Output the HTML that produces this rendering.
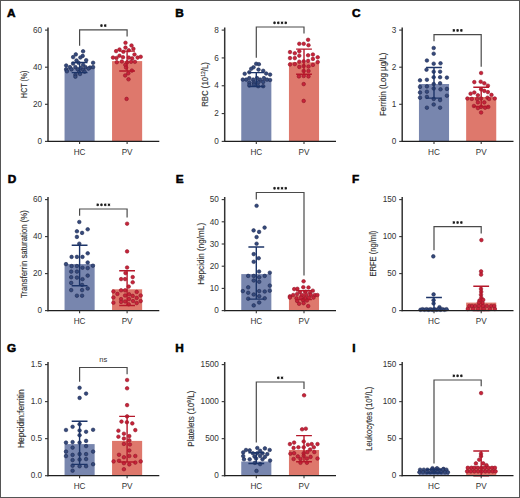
<!DOCTYPE html>
<html><head><meta charset="utf-8"><style>
html,body{margin:0;padding:0;background:#fff;width:520px;height:498px;overflow:hidden}
svg{display:block}
#bd{position:absolute;left:0;top:0;width:518px;height:496px;border:1px solid #555}
text{font-family:"Liberation Sans",sans-serif;fill:#333333}
.t{font-size:8.2px}
.ns{font-size:7.6px}
.yt{font-size:9px;stroke:#333;stroke-width:0.15px}
.L{font-size:11.8px;font-weight:bold;fill:#000;stroke:#000;stroke-width:0.55px}
</style></head><body>
<svg width="520" height="498" viewBox="0 0 520 498">
<rect x="0" y="0" width="520" height="498" fill="#fff"/>
<rect x="64.55" y="67.5" width="30.1" height="73.9" fill="#7886ae"/>
<rect x="112.05" y="61.1" width="30.1" height="80.3" fill="#de786c"/>
<circle cx="83.1" cy="51.3" r="1.8" fill="#354a7c" stroke="#1e2a52" stroke-width="0.6"/>
<circle cx="75.8" cy="54.4" r="1.8" fill="#354a7c" stroke="#1e2a52" stroke-width="0.6"/>
<circle cx="82.7" cy="55.9" r="1.8" fill="#354a7c" stroke="#1e2a52" stroke-width="0.6"/>
<circle cx="73.1" cy="57.1" r="1.8" fill="#354a7c" stroke="#1e2a52" stroke-width="0.6"/>
<circle cx="80.4" cy="57.5" r="1.8" fill="#354a7c" stroke="#1e2a52" stroke-width="0.6"/>
<circle cx="86.2" cy="60.2" r="1.8" fill="#354a7c" stroke="#1e2a52" stroke-width="0.6"/>
<circle cx="76.5" cy="60.5" r="1.8" fill="#354a7c" stroke="#1e2a52" stroke-width="0.6"/>
<circle cx="93.1" cy="62.8" r="1.8" fill="#354a7c" stroke="#1e2a52" stroke-width="0.6"/>
<circle cx="73.1" cy="63.6" r="1.8" fill="#354a7c" stroke="#1e2a52" stroke-width="0.6"/>
<circle cx="78.5" cy="62.8" r="1.8" fill="#354a7c" stroke="#1e2a52" stroke-width="0.6"/>
<circle cx="66.2" cy="65.5" r="1.8" fill="#354a7c" stroke="#1e2a52" stroke-width="0.6"/>
<circle cx="83.1" cy="64.8" r="1.8" fill="#354a7c" stroke="#1e2a52" stroke-width="0.6"/>
<circle cx="70" cy="67.1" r="1.8" fill="#354a7c" stroke="#1e2a52" stroke-width="0.6"/>
<circle cx="75.4" cy="67.1" r="1.8" fill="#354a7c" stroke="#1e2a52" stroke-width="0.6"/>
<circle cx="80.8" cy="67.8" r="1.8" fill="#354a7c" stroke="#1e2a52" stroke-width="0.6"/>
<circle cx="85.4" cy="67.1" r="1.8" fill="#354a7c" stroke="#1e2a52" stroke-width="0.6"/>
<circle cx="90" cy="67.5" r="1.8" fill="#354a7c" stroke="#1e2a52" stroke-width="0.6"/>
<circle cx="93.1" cy="67.1" r="1.8" fill="#354a7c" stroke="#1e2a52" stroke-width="0.6"/>
<circle cx="66.2" cy="69.4" r="1.8" fill="#354a7c" stroke="#1e2a52" stroke-width="0.6"/>
<circle cx="71.5" cy="69.4" r="1.8" fill="#354a7c" stroke="#1e2a52" stroke-width="0.6"/>
<circle cx="77.7" cy="69.4" r="1.8" fill="#354a7c" stroke="#1e2a52" stroke-width="0.6"/>
<circle cx="83.1" cy="69.8" r="1.8" fill="#354a7c" stroke="#1e2a52" stroke-width="0.6"/>
<circle cx="88.5" cy="68.6" r="1.8" fill="#354a7c" stroke="#1e2a52" stroke-width="0.6"/>
<circle cx="66.9" cy="71.3" r="1.8" fill="#354a7c" stroke="#1e2a52" stroke-width="0.6"/>
<circle cx="79.2" cy="72.1" r="1.8" fill="#354a7c" stroke="#1e2a52" stroke-width="0.6"/>
<circle cx="84.6" cy="71.7" r="1.8" fill="#354a7c" stroke="#1e2a52" stroke-width="0.6"/>
<circle cx="75.4" cy="74.8" r="1.8" fill="#354a7c" stroke="#1e2a52" stroke-width="0.6"/>
<circle cx="80" cy="74" r="1.8" fill="#354a7c" stroke="#1e2a52" stroke-width="0.6"/>
<circle cx="75.4" cy="76.7" r="1.8" fill="#354a7c" stroke="#1e2a52" stroke-width="0.6"/>
<circle cx="125.5" cy="42.8" r="1.8" fill="#c8233a" stroke="#921527" stroke-width="0.6"/>
<circle cx="131.5" cy="45.5" r="1.8" fill="#c8233a" stroke="#921527" stroke-width="0.6"/>
<circle cx="125.5" cy="47.6" r="1.8" fill="#c8233a" stroke="#921527" stroke-width="0.6"/>
<circle cx="119.5" cy="49.5" r="1.8" fill="#c8233a" stroke="#921527" stroke-width="0.6"/>
<circle cx="116.1" cy="51.1" r="1.8" fill="#c8233a" stroke="#921527" stroke-width="0.6"/>
<circle cx="133.4" cy="48.8" r="1.8" fill="#c8233a" stroke="#921527" stroke-width="0.6"/>
<circle cx="128.8" cy="50.3" r="1.8" fill="#c8233a" stroke="#921527" stroke-width="0.6"/>
<circle cx="123.4" cy="51.8" r="1.8" fill="#c8233a" stroke="#921527" stroke-width="0.6"/>
<circle cx="134.5" cy="54.5" r="1.8" fill="#c8233a" stroke="#921527" stroke-width="0.6"/>
<circle cx="119.5" cy="55.7" r="1.8" fill="#c8233a" stroke="#921527" stroke-width="0.6"/>
<circle cx="113" cy="57.6" r="1.8" fill="#c8233a" stroke="#921527" stroke-width="0.6"/>
<circle cx="116.5" cy="58" r="1.8" fill="#c8233a" stroke="#921527" stroke-width="0.6"/>
<circle cx="123" cy="57.2" r="1.8" fill="#c8233a" stroke="#921527" stroke-width="0.6"/>
<circle cx="128.8" cy="57.6" r="1.8" fill="#c8233a" stroke="#921527" stroke-width="0.6"/>
<circle cx="132.2" cy="58.4" r="1.8" fill="#c8233a" stroke="#921527" stroke-width="0.6"/>
<circle cx="137.6" cy="57.6" r="1.8" fill="#c8233a" stroke="#921527" stroke-width="0.6"/>
<circle cx="140.7" cy="56.8" r="1.8" fill="#c8233a" stroke="#921527" stroke-width="0.6"/>
<circle cx="116.8" cy="62.2" r="1.8" fill="#c8233a" stroke="#921527" stroke-width="0.6"/>
<circle cx="121.8" cy="61.5" r="1.8" fill="#c8233a" stroke="#921527" stroke-width="0.6"/>
<circle cx="127.2" cy="62.2" r="1.8" fill="#c8233a" stroke="#921527" stroke-width="0.6"/>
<circle cx="131.1" cy="61.8" r="1.8" fill="#c8233a" stroke="#921527" stroke-width="0.6"/>
<circle cx="134.9" cy="61.8" r="1.8" fill="#c8233a" stroke="#921527" stroke-width="0.6"/>
<circle cx="125.3" cy="64.9" r="1.8" fill="#c8233a" stroke="#921527" stroke-width="0.6"/>
<circle cx="126.1" cy="67.6" r="1.8" fill="#c8233a" stroke="#921527" stroke-width="0.6"/>
<circle cx="131.9" cy="70.6" r="1.8" fill="#c8233a" stroke="#921527" stroke-width="0.6"/>
<circle cx="128.3" cy="73.3" r="1.8" fill="#c8233a" stroke="#921527" stroke-width="0.6"/>
<circle cx="125.2" cy="75.5" r="1.8" fill="#c8233a" stroke="#921527" stroke-width="0.6"/>
<circle cx="128.5" cy="79.3" r="1.8" fill="#c8233a" stroke="#921527" stroke-width="0.6"/>
<circle cx="126.6" cy="98.9" r="1.8" fill="#c8233a" stroke="#921527" stroke-width="0.6"/>
<path d="M79.6 72.6V62.5M71.7 72.6H87.5M71.7 62.5H87.5" stroke="#1c3468" stroke-width="1.4" fill="none"/>
<path d="M127.1 71V51.1M119.2 71H135M119.2 51.1H135" stroke="#b5182b" stroke-width="1.4" fill="none"/>
<path d="M48 27.5V142" stroke="#333333" stroke-width="1.5" fill="none"/>
<path d="M47.3 141.4H159.3" stroke="#1e1e1e" stroke-width="1.3" fill="none"/>
<path d="M45 141.4H48" stroke="#333333" stroke-width="1.1"/>
<text x="42.1" y="144.1" text-anchor="end" class="t">0</text>
<path d="M45 104.3H48" stroke="#333333" stroke-width="1.1"/>
<text x="42.1" y="107" text-anchor="end" class="t">20</text>
<path d="M45 67.2H48" stroke="#333333" stroke-width="1.1"/>
<text x="42.1" y="69.9" text-anchor="end" class="t">40</text>
<path d="M45 30.1H48" stroke="#333333" stroke-width="1.1"/>
<text x="42.1" y="32.8" text-anchor="end" class="t">60</text>
<path d="M79.6 141.4V144" stroke="#333333" stroke-width="1.1"/>
<text x="79.6" y="155" text-anchor="middle" class="t">HC</text>
<path d="M127.1 141.4V144" stroke="#333333" stroke-width="1.1"/>
<text x="127.1" y="155" text-anchor="middle" class="t">PV</text>
<path d="M79.6 45.8V29.8H127.1V36.5" stroke="#4a4a4a" stroke-width="1.2" fill="none"/>
<path d="M101.47 27L101.47 24.2M100.26 26.3L102.69 24.9M102.69 26.3L100.26 24.9M105.22 27L105.22 24.2M104.01 26.3L106.44 24.9M106.44 26.3L104.01 24.9" stroke="#222" stroke-width="0.8" fill="none"/>
<circle cx="101.47" cy="25.6" r="1.05" fill="#1a1a1a"/>
<circle cx="105.22" cy="25.6" r="1.05" fill="#1a1a1a"/>
<text transform="translate(26.8 97.9) rotate(-90)" textLength="27.3" lengthAdjust="spacingAndGlyphs" class="yt">HCT (%)</text>
<text x="7.1" y="16.9" class="L">A</text>
<rect x="241.25" y="79.6" width="30.1" height="61.8" fill="#7886ae"/>
<rect x="288.95" y="62.3" width="30.1" height="79.1" fill="#de786c"/>
<circle cx="256.2" cy="63.8" r="1.8" fill="#354a7c" stroke="#1e2a52" stroke-width="0.6"/>
<circle cx="258.9" cy="64.2" r="1.8" fill="#354a7c" stroke="#1e2a52" stroke-width="0.6"/>
<circle cx="253.5" cy="67.3" r="1.8" fill="#354a7c" stroke="#1e2a52" stroke-width="0.6"/>
<circle cx="251.2" cy="68.8" r="1.8" fill="#354a7c" stroke="#1e2a52" stroke-width="0.6"/>
<circle cx="258.5" cy="69.6" r="1.8" fill="#354a7c" stroke="#1e2a52" stroke-width="0.6"/>
<circle cx="263.2" cy="70.8" r="1.8" fill="#354a7c" stroke="#1e2a52" stroke-width="0.6"/>
<circle cx="249.3" cy="72.3" r="1.8" fill="#354a7c" stroke="#1e2a52" stroke-width="0.6"/>
<circle cx="244.7" cy="73.8" r="1.8" fill="#354a7c" stroke="#1e2a52" stroke-width="0.6"/>
<circle cx="266.2" cy="73.5" r="1.8" fill="#354a7c" stroke="#1e2a52" stroke-width="0.6"/>
<circle cx="270.1" cy="74.6" r="1.8" fill="#354a7c" stroke="#1e2a52" stroke-width="0.6"/>
<circle cx="242.8" cy="79.6" r="1.8" fill="#354a7c" stroke="#1e2a52" stroke-width="0.6"/>
<circle cx="246.2" cy="79.6" r="1.8" fill="#354a7c" stroke="#1e2a52" stroke-width="0.6"/>
<circle cx="249.3" cy="78.1" r="1.8" fill="#354a7c" stroke="#1e2a52" stroke-width="0.6"/>
<circle cx="253.2" cy="79.6" r="1.8" fill="#354a7c" stroke="#1e2a52" stroke-width="0.6"/>
<circle cx="257" cy="78.1" r="1.8" fill="#354a7c" stroke="#1e2a52" stroke-width="0.6"/>
<circle cx="260.1" cy="79.6" r="1.8" fill="#354a7c" stroke="#1e2a52" stroke-width="0.6"/>
<circle cx="263.9" cy="78.1" r="1.8" fill="#354a7c" stroke="#1e2a52" stroke-width="0.6"/>
<circle cx="267" cy="79.6" r="1.8" fill="#354a7c" stroke="#1e2a52" stroke-width="0.6"/>
<circle cx="270.1" cy="80" r="1.8" fill="#354a7c" stroke="#1e2a52" stroke-width="0.6"/>
<circle cx="249.3" cy="82.7" r="1.8" fill="#354a7c" stroke="#1e2a52" stroke-width="0.6"/>
<circle cx="253.9" cy="82.7" r="1.8" fill="#354a7c" stroke="#1e2a52" stroke-width="0.6"/>
<circle cx="258.5" cy="82.3" r="1.8" fill="#354a7c" stroke="#1e2a52" stroke-width="0.6"/>
<circle cx="263.2" cy="81.9" r="1.8" fill="#354a7c" stroke="#1e2a52" stroke-width="0.6"/>
<circle cx="249.3" cy="85.4" r="1.8" fill="#354a7c" stroke="#1e2a52" stroke-width="0.6"/>
<circle cx="253.9" cy="84.6" r="1.8" fill="#354a7c" stroke="#1e2a52" stroke-width="0.6"/>
<circle cx="258.2" cy="86.2" r="1.8" fill="#354a7c" stroke="#1e2a52" stroke-width="0.6"/>
<circle cx="263.2" cy="86.2" r="1.8" fill="#354a7c" stroke="#1e2a52" stroke-width="0.6"/>
<circle cx="308.1" cy="39.8" r="1.8" fill="#c8233a" stroke="#921527" stroke-width="0.6"/>
<circle cx="299.3" cy="43.8" r="1.8" fill="#c8233a" stroke="#921527" stroke-width="0.6"/>
<circle cx="303.7" cy="43.8" r="1.8" fill="#c8233a" stroke="#921527" stroke-width="0.6"/>
<circle cx="308.5" cy="45.2" r="1.8" fill="#c8233a" stroke="#921527" stroke-width="0.6"/>
<circle cx="290" cy="52.1" r="1.8" fill="#c8233a" stroke="#921527" stroke-width="0.6"/>
<circle cx="294.8" cy="53.3" r="1.8" fill="#c8233a" stroke="#921527" stroke-width="0.6"/>
<circle cx="299.3" cy="51.3" r="1.8" fill="#c8233a" stroke="#921527" stroke-width="0.6"/>
<circle cx="299.3" cy="55.7" r="1.8" fill="#c8233a" stroke="#921527" stroke-width="0.6"/>
<circle cx="308.1" cy="55.3" r="1.8" fill="#c8233a" stroke="#921527" stroke-width="0.6"/>
<circle cx="312.9" cy="54.5" r="1.8" fill="#c8233a" stroke="#921527" stroke-width="0.6"/>
<circle cx="317.7" cy="57.3" r="1.8" fill="#c8233a" stroke="#921527" stroke-width="0.6"/>
<circle cx="290" cy="58.1" r="1.8" fill="#c8233a" stroke="#921527" stroke-width="0.6"/>
<circle cx="294.8" cy="58.1" r="1.8" fill="#c8233a" stroke="#921527" stroke-width="0.6"/>
<circle cx="299.3" cy="61.7" r="1.8" fill="#c8233a" stroke="#921527" stroke-width="0.6"/>
<circle cx="303.7" cy="61.3" r="1.8" fill="#c8233a" stroke="#921527" stroke-width="0.6"/>
<circle cx="308.1" cy="60.9" r="1.8" fill="#c8233a" stroke="#921527" stroke-width="0.6"/>
<circle cx="312.9" cy="58.9" r="1.8" fill="#c8233a" stroke="#921527" stroke-width="0.6"/>
<circle cx="317.7" cy="62.1" r="1.8" fill="#c8233a" stroke="#921527" stroke-width="0.6"/>
<circle cx="290" cy="64.5" r="1.8" fill="#c8233a" stroke="#921527" stroke-width="0.6"/>
<circle cx="294.8" cy="64.1" r="1.8" fill="#c8233a" stroke="#921527" stroke-width="0.6"/>
<circle cx="312.9" cy="64.9" r="1.8" fill="#c8233a" stroke="#921527" stroke-width="0.6"/>
<circle cx="299.3" cy="66.9" r="1.8" fill="#c8233a" stroke="#921527" stroke-width="0.6"/>
<circle cx="303.7" cy="66.1" r="1.8" fill="#c8233a" stroke="#921527" stroke-width="0.6"/>
<circle cx="308.5" cy="66.5" r="1.8" fill="#c8233a" stroke="#921527" stroke-width="0.6"/>
<circle cx="308.5" cy="71" r="1.8" fill="#c8233a" stroke="#921527" stroke-width="0.6"/>
<circle cx="303.7" cy="71" r="1.8" fill="#c8233a" stroke="#921527" stroke-width="0.6"/>
<circle cx="298.9" cy="76.4" r="1.8" fill="#c8233a" stroke="#921527" stroke-width="0.6"/>
<circle cx="303.7" cy="76" r="1.8" fill="#c8233a" stroke="#921527" stroke-width="0.6"/>
<circle cx="308.5" cy="76.4" r="1.8" fill="#c8233a" stroke="#921527" stroke-width="0.6"/>
<circle cx="303.7" cy="84.1" r="1.8" fill="#c8233a" stroke="#921527" stroke-width="0.6"/>
<circle cx="303.7" cy="100.9" r="1.8" fill="#c8233a" stroke="#921527" stroke-width="0.6"/>
<path d="M256.3 86.5V72.6M248.4 86.5H264.2M248.4 72.6H264.2" stroke="#1c3468" stroke-width="1.4" fill="none"/>
<path d="M304 74.3V49.1M296.1 74.3H311.9M296.1 49.1H311.9" stroke="#b5182b" stroke-width="1.4" fill="none"/>
<path d="M224.7 27.5V142" stroke="#333333" stroke-width="1.5" fill="none"/>
<path d="M224 141.4H336" stroke="#1e1e1e" stroke-width="1.3" fill="none"/>
<path d="M221.7 141.4H224.7" stroke="#333333" stroke-width="1.1"/>
<text x="218.8" y="144.1" text-anchor="end" class="t">0</text>
<path d="M221.7 113.58H224.7" stroke="#333333" stroke-width="1.1"/>
<text x="218.8" y="116.28" text-anchor="end" class="t">2</text>
<path d="M221.7 85.75H224.7" stroke="#333333" stroke-width="1.1"/>
<text x="218.8" y="88.45" text-anchor="end" class="t">4</text>
<path d="M221.7 57.92H224.7" stroke="#333333" stroke-width="1.1"/>
<text x="218.8" y="60.62" text-anchor="end" class="t">6</text>
<path d="M221.7 30.1H224.7" stroke="#333333" stroke-width="1.1"/>
<text x="218.8" y="32.8" text-anchor="end" class="t">8</text>
<path d="M256.3 141.4V144" stroke="#333333" stroke-width="1.1"/>
<text x="256.3" y="155" text-anchor="middle" class="t">HC</text>
<path d="M304 141.4V144" stroke="#333333" stroke-width="1.1"/>
<text x="304" y="155" text-anchor="middle" class="t">PV</text>
<path d="M256.3 57.7V27H304V33.5" stroke="#4a4a4a" stroke-width="1.2" fill="none"/>
<path d="M274.52 24.2L274.52 21.4M273.31 23.5L275.74 22.1M275.74 23.5L273.31 22.1M278.27 24.2L278.27 21.4M277.06 23.5L279.49 22.1M279.49 23.5L277.06 22.1M282.02 24.2L282.02 21.4M280.81 23.5L283.24 22.1M283.24 23.5L280.81 22.1M285.77 24.2L285.77 21.4M284.56 23.5L286.99 22.1M286.99 23.5L284.56 22.1" stroke="#222" stroke-width="0.8" fill="none"/>
<circle cx="274.52" cy="22.8" r="1.05" fill="#1a1a1a"/>
<circle cx="278.27" cy="22.8" r="1.05" fill="#1a1a1a"/>
<circle cx="282.02" cy="22.8" r="1.05" fill="#1a1a1a"/>
<circle cx="285.77" cy="22.8" r="1.05" fill="#1a1a1a"/>
<text transform="translate(208.1 106.8) rotate(-90)" textLength="44.7" lengthAdjust="spacingAndGlyphs" class="yt">RBC (10<tspan dy="-3.4" font-size="5.8">12</tspan><tspan dy="3.4">/L)</tspan></text>
<text x="175.2" y="16.8" class="L">B</text>
<rect x="418.95" y="84" width="30.1" height="57.4" fill="#7886ae"/>
<rect x="466.15" y="97" width="30.1" height="44.4" fill="#de786c"/>
<circle cx="433.7" cy="48" r="1.8" fill="#354a7c" stroke="#1e2a52" stroke-width="0.6"/>
<circle cx="433.7" cy="53.7" r="1.8" fill="#354a7c" stroke="#1e2a52" stroke-width="0.6"/>
<circle cx="426.9" cy="60.5" r="1.8" fill="#354a7c" stroke="#1e2a52" stroke-width="0.6"/>
<circle cx="433.7" cy="63.7" r="1.8" fill="#354a7c" stroke="#1e2a52" stroke-width="0.6"/>
<circle cx="440.5" cy="63.3" r="1.8" fill="#354a7c" stroke="#1e2a52" stroke-width="0.6"/>
<circle cx="426.5" cy="69.7" r="1.8" fill="#354a7c" stroke="#1e2a52" stroke-width="0.6"/>
<circle cx="433.7" cy="71.7" r="1.8" fill="#354a7c" stroke="#1e2a52" stroke-width="0.6"/>
<circle cx="440.1" cy="71.7" r="1.8" fill="#354a7c" stroke="#1e2a52" stroke-width="0.6"/>
<circle cx="433.7" cy="77.2" r="1.8" fill="#354a7c" stroke="#1e2a52" stroke-width="0.6"/>
<circle cx="440.1" cy="77.2" r="1.8" fill="#354a7c" stroke="#1e2a52" stroke-width="0.6"/>
<circle cx="446.9" cy="77.6" r="1.8" fill="#354a7c" stroke="#1e2a52" stroke-width="0.6"/>
<circle cx="420" cy="80.3" r="1.8" fill="#354a7c" stroke="#1e2a52" stroke-width="0.6"/>
<circle cx="426.9" cy="79.8" r="1.8" fill="#354a7c" stroke="#1e2a52" stroke-width="0.6"/>
<circle cx="440.1" cy="83.2" r="1.8" fill="#354a7c" stroke="#1e2a52" stroke-width="0.6"/>
<circle cx="433.7" cy="84" r="1.8" fill="#354a7c" stroke="#1e2a52" stroke-width="0.6"/>
<circle cx="420" cy="86.9" r="1.8" fill="#354a7c" stroke="#1e2a52" stroke-width="0.6"/>
<circle cx="426.9" cy="86.4" r="1.8" fill="#354a7c" stroke="#1e2a52" stroke-width="0.6"/>
<circle cx="433.7" cy="88.5" r="1.8" fill="#354a7c" stroke="#1e2a52" stroke-width="0.6"/>
<circle cx="440.5" cy="89.3" r="1.8" fill="#354a7c" stroke="#1e2a52" stroke-width="0.6"/>
<circle cx="446.9" cy="88.9" r="1.8" fill="#354a7c" stroke="#1e2a52" stroke-width="0.6"/>
<circle cx="420" cy="92.5" r="1.8" fill="#354a7c" stroke="#1e2a52" stroke-width="0.6"/>
<circle cx="426.9" cy="91.7" r="1.8" fill="#354a7c" stroke="#1e2a52" stroke-width="0.6"/>
<circle cx="446.9" cy="95.7" r="1.8" fill="#354a7c" stroke="#1e2a52" stroke-width="0.6"/>
<circle cx="420" cy="97.7" r="1.8" fill="#354a7c" stroke="#1e2a52" stroke-width="0.6"/>
<circle cx="426.9" cy="96.9" r="1.8" fill="#354a7c" stroke="#1e2a52" stroke-width="0.6"/>
<circle cx="433.7" cy="98.9" r="1.8" fill="#354a7c" stroke="#1e2a52" stroke-width="0.6"/>
<circle cx="440.1" cy="100.1" r="1.8" fill="#354a7c" stroke="#1e2a52" stroke-width="0.6"/>
<circle cx="433.7" cy="104.5" r="1.8" fill="#354a7c" stroke="#1e2a52" stroke-width="0.6"/>
<circle cx="426.9" cy="107.7" r="1.8" fill="#354a7c" stroke="#1e2a52" stroke-width="0.6"/>
<circle cx="440.1" cy="107.7" r="1.8" fill="#354a7c" stroke="#1e2a52" stroke-width="0.6"/>
<circle cx="481.1" cy="73" r="1.8" fill="#c8233a" stroke="#921527" stroke-width="0.6"/>
<circle cx="474.3" cy="82.1" r="1.8" fill="#c8233a" stroke="#921527" stroke-width="0.6"/>
<circle cx="480.7" cy="81.7" r="1.8" fill="#c8233a" stroke="#921527" stroke-width="0.6"/>
<circle cx="484.3" cy="83.3" r="1.8" fill="#c8233a" stroke="#921527" stroke-width="0.6"/>
<circle cx="487.9" cy="85.7" r="1.8" fill="#c8233a" stroke="#921527" stroke-width="0.6"/>
<circle cx="481.1" cy="89.3" r="1.8" fill="#c8233a" stroke="#921527" stroke-width="0.6"/>
<circle cx="484.3" cy="90.9" r="1.8" fill="#c8233a" stroke="#921527" stroke-width="0.6"/>
<circle cx="487.9" cy="92.1" r="1.8" fill="#c8233a" stroke="#921527" stroke-width="0.6"/>
<circle cx="474.3" cy="92.5" r="1.8" fill="#c8233a" stroke="#921527" stroke-width="0.6"/>
<circle cx="470.6" cy="93.7" r="1.8" fill="#c8233a" stroke="#921527" stroke-width="0.6"/>
<circle cx="477.9" cy="95.3" r="1.8" fill="#c8233a" stroke="#921527" stroke-width="0.6"/>
<circle cx="491.5" cy="94.9" r="1.8" fill="#c8233a" stroke="#921527" stroke-width="0.6"/>
<circle cx="467.4" cy="98.5" r="1.8" fill="#c8233a" stroke="#921527" stroke-width="0.6"/>
<circle cx="471.8" cy="98.9" r="1.8" fill="#c8233a" stroke="#921527" stroke-width="0.6"/>
<circle cx="481.1" cy="98.5" r="1.8" fill="#c8233a" stroke="#921527" stroke-width="0.6"/>
<circle cx="487.5" cy="97.7" r="1.8" fill="#c8233a" stroke="#921527" stroke-width="0.6"/>
<circle cx="494.7" cy="98.5" r="1.8" fill="#c8233a" stroke="#921527" stroke-width="0.6"/>
<circle cx="477.1" cy="99" r="1.8" fill="#c8233a" stroke="#921527" stroke-width="0.6"/>
<circle cx="489.1" cy="99" r="1.8" fill="#c8233a" stroke="#921527" stroke-width="0.6"/>
<circle cx="477.9" cy="102.4" r="1.8" fill="#c8233a" stroke="#921527" stroke-width="0.6"/>
<circle cx="484.3" cy="102.4" r="1.8" fill="#c8233a" stroke="#921527" stroke-width="0.6"/>
<circle cx="473.9" cy="106" r="1.8" fill="#c8233a" stroke="#921527" stroke-width="0.6"/>
<circle cx="477.9" cy="108.1" r="1.8" fill="#c8233a" stroke="#921527" stroke-width="0.6"/>
<circle cx="481.1" cy="106.9" r="1.8" fill="#c8233a" stroke="#921527" stroke-width="0.6"/>
<circle cx="485.1" cy="107.7" r="1.8" fill="#c8233a" stroke="#921527" stroke-width="0.6"/>
<circle cx="488.3" cy="106.9" r="1.8" fill="#c8233a" stroke="#921527" stroke-width="0.6"/>
<circle cx="481.1" cy="112.5" r="1.8" fill="#c8233a" stroke="#921527" stroke-width="0.6"/>
<path d="M434 98.1V67.5M426.1 98.1H441.9M426.1 67.5H441.9" stroke="#1c3468" stroke-width="1.4" fill="none"/>
<path d="M481.2 106.5V87.3M473.3 106.5H489.1M473.3 87.3H489.1" stroke="#b5182b" stroke-width="1.4" fill="none"/>
<path d="M402.2 27.5V142" stroke="#333333" stroke-width="1.5" fill="none"/>
<path d="M401.5 141.4H513.5" stroke="#1e1e1e" stroke-width="1.3" fill="none"/>
<path d="M399.2 141.4H402.2" stroke="#333333" stroke-width="1.1"/>
<text x="396.3" y="144.1" text-anchor="end" class="t">0</text>
<path d="M399.2 104.3H402.2" stroke="#333333" stroke-width="1.1"/>
<text x="396.3" y="107" text-anchor="end" class="t">1</text>
<path d="M399.2 67.2H402.2" stroke="#333333" stroke-width="1.1"/>
<text x="396.3" y="69.9" text-anchor="end" class="t">2</text>
<path d="M399.2 30.1H402.2" stroke="#333333" stroke-width="1.1"/>
<text x="396.3" y="32.8" text-anchor="end" class="t">3</text>
<path d="M434 141.4V144" stroke="#333333" stroke-width="1.1"/>
<text x="434" y="155" text-anchor="middle" class="t">HC</text>
<path d="M481.2 141.4V144" stroke="#333333" stroke-width="1.1"/>
<text x="481.2" y="155" text-anchor="middle" class="t">PV</text>
<path d="M434 41.3V34.6H481.2V66.7" stroke="#4a4a4a" stroke-width="1.2" fill="none"/>
<path d="M453.85 31.8L453.85 29M452.64 31.1L455.06 29.7M455.06 31.1L452.64 29.7M457.6 31.8L457.6 29M456.39 31.1L458.81 29.7M458.81 31.1L456.39 29.7M461.35 31.8L461.35 29M460.14 31.1L462.56 29.7M462.56 31.1L460.14 29.7" stroke="#222" stroke-width="0.8" fill="none"/>
<circle cx="453.85" cy="30.4" r="1.05" fill="#1a1a1a"/>
<circle cx="457.6" cy="30.4" r="1.05" fill="#1a1a1a"/>
<circle cx="461.35" cy="30.4" r="1.05" fill="#1a1a1a"/>
<text transform="translate(385.8 116) rotate(-90)" textLength="63.4" lengthAdjust="spacingAndGlyphs" class="yt">Ferritin (Log µg/L)</text>
<text x="351.9" y="16.9" class="L">C</text>
<rect x="64.55" y="264.1" width="30.1" height="46.5" fill="#7886ae"/>
<rect x="112.05" y="289.3" width="30.1" height="21.3" fill="#de786c"/>
<circle cx="79.3" cy="222" r="1.8" fill="#354a7c" stroke="#1e2a52" stroke-width="0.6"/>
<circle cx="87.7" cy="229.3" r="1.8" fill="#354a7c" stroke="#1e2a52" stroke-width="0.6"/>
<circle cx="76.9" cy="231.3" r="1.8" fill="#354a7c" stroke="#1e2a52" stroke-width="0.6"/>
<circle cx="82.1" cy="232.9" r="1.8" fill="#354a7c" stroke="#1e2a52" stroke-width="0.6"/>
<circle cx="76.9" cy="236.9" r="1.8" fill="#354a7c" stroke="#1e2a52" stroke-width="0.6"/>
<circle cx="79.3" cy="243.7" r="1.8" fill="#354a7c" stroke="#1e2a52" stroke-width="0.6"/>
<circle cx="87.7" cy="253.3" r="1.8" fill="#354a7c" stroke="#1e2a52" stroke-width="0.6"/>
<circle cx="71.6" cy="256.9" r="1.8" fill="#354a7c" stroke="#1e2a52" stroke-width="0.6"/>
<circle cx="76.9" cy="256.9" r="1.8" fill="#354a7c" stroke="#1e2a52" stroke-width="0.6"/>
<circle cx="82.5" cy="256.9" r="1.8" fill="#354a7c" stroke="#1e2a52" stroke-width="0.6"/>
<circle cx="87.7" cy="262.5" r="1.8" fill="#354a7c" stroke="#1e2a52" stroke-width="0.6"/>
<circle cx="66" cy="264.1" r="1.8" fill="#354a7c" stroke="#1e2a52" stroke-width="0.6"/>
<circle cx="92.9" cy="265.7" r="1.8" fill="#354a7c" stroke="#1e2a52" stroke-width="0.6"/>
<circle cx="71.6" cy="266.1" r="1.8" fill="#354a7c" stroke="#1e2a52" stroke-width="0.6"/>
<circle cx="76.9" cy="266.1" r="1.8" fill="#354a7c" stroke="#1e2a52" stroke-width="0.6"/>
<circle cx="82.5" cy="267.7" r="1.8" fill="#354a7c" stroke="#1e2a52" stroke-width="0.6"/>
<circle cx="87.7" cy="268.1" r="1.8" fill="#354a7c" stroke="#1e2a52" stroke-width="0.6"/>
<circle cx="71.2" cy="271.6" r="1.8" fill="#354a7c" stroke="#1e2a52" stroke-width="0.6"/>
<circle cx="76.9" cy="271.6" r="1.8" fill="#354a7c" stroke="#1e2a52" stroke-width="0.6"/>
<circle cx="87.7" cy="275.6" r="1.8" fill="#354a7c" stroke="#1e2a52" stroke-width="0.6"/>
<circle cx="71.2" cy="277.2" r="1.8" fill="#354a7c" stroke="#1e2a52" stroke-width="0.6"/>
<circle cx="76.9" cy="277.6" r="1.8" fill="#354a7c" stroke="#1e2a52" stroke-width="0.6"/>
<circle cx="82.5" cy="279.2" r="1.8" fill="#354a7c" stroke="#1e2a52" stroke-width="0.6"/>
<circle cx="71.2" cy="282.9" r="1.8" fill="#354a7c" stroke="#1e2a52" stroke-width="0.6"/>
<circle cx="82.1" cy="284.9" r="1.8" fill="#354a7c" stroke="#1e2a52" stroke-width="0.6"/>
<circle cx="87.7" cy="288.5" r="1.8" fill="#354a7c" stroke="#1e2a52" stroke-width="0.6"/>
<circle cx="71.2" cy="290.1" r="1.8" fill="#354a7c" stroke="#1e2a52" stroke-width="0.6"/>
<circle cx="82.1" cy="290.1" r="1.8" fill="#354a7c" stroke="#1e2a52" stroke-width="0.6"/>
<circle cx="76.9" cy="295.7" r="1.8" fill="#354a7c" stroke="#1e2a52" stroke-width="0.6"/>
<circle cx="82.1" cy="295.7" r="1.8" fill="#354a7c" stroke="#1e2a52" stroke-width="0.6"/>
<circle cx="127.1" cy="223.7" r="1.8" fill="#c8233a" stroke="#921527" stroke-width="0.6"/>
<circle cx="127.1" cy="251.4" r="1.8" fill="#c8233a" stroke="#921527" stroke-width="0.6"/>
<circle cx="127.1" cy="267.5" r="1.8" fill="#c8233a" stroke="#921527" stroke-width="0.6"/>
<circle cx="125.5" cy="273.1" r="1.8" fill="#c8233a" stroke="#921527" stroke-width="0.6"/>
<circle cx="121.1" cy="279.1" r="1.8" fill="#c8233a" stroke="#921527" stroke-width="0.6"/>
<circle cx="125.1" cy="279.1" r="1.8" fill="#c8233a" stroke="#921527" stroke-width="0.6"/>
<circle cx="132.7" cy="277.1" r="1.8" fill="#c8233a" stroke="#921527" stroke-width="0.6"/>
<circle cx="132.7" cy="282.3" r="1.8" fill="#c8233a" stroke="#921527" stroke-width="0.6"/>
<circle cx="128.7" cy="286.6" r="1.8" fill="#c8233a" stroke="#921527" stroke-width="0.6"/>
<circle cx="113.4" cy="291.5" r="1.8" fill="#c8233a" stroke="#921527" stroke-width="0.6"/>
<circle cx="121.1" cy="290.3" r="1.8" fill="#c8233a" stroke="#921527" stroke-width="0.6"/>
<circle cx="125.1" cy="290.3" r="1.8" fill="#c8233a" stroke="#921527" stroke-width="0.6"/>
<circle cx="136.7" cy="291.9" r="1.8" fill="#c8233a" stroke="#921527" stroke-width="0.6"/>
<circle cx="117.4" cy="293.9" r="1.8" fill="#c8233a" stroke="#921527" stroke-width="0.6"/>
<circle cx="125.1" cy="295.5" r="1.8" fill="#c8233a" stroke="#921527" stroke-width="0.6"/>
<circle cx="129.1" cy="294.3" r="1.8" fill="#c8233a" stroke="#921527" stroke-width="0.6"/>
<circle cx="132.7" cy="295.9" r="1.8" fill="#c8233a" stroke="#921527" stroke-width="0.6"/>
<circle cx="140.7" cy="295.5" r="1.8" fill="#c8233a" stroke="#921527" stroke-width="0.6"/>
<circle cx="113.4" cy="297.5" r="1.8" fill="#c8233a" stroke="#921527" stroke-width="0.6"/>
<circle cx="121.1" cy="299.1" r="1.8" fill="#c8233a" stroke="#921527" stroke-width="0.6"/>
<circle cx="129.1" cy="299.1" r="1.8" fill="#c8233a" stroke="#921527" stroke-width="0.6"/>
<circle cx="136.7" cy="297.9" r="1.8" fill="#c8233a" stroke="#921527" stroke-width="0.6"/>
<circle cx="113.4" cy="302.7" r="1.8" fill="#c8233a" stroke="#921527" stroke-width="0.6"/>
<circle cx="121.1" cy="301.9" r="1.8" fill="#c8233a" stroke="#921527" stroke-width="0.6"/>
<circle cx="125.1" cy="301.5" r="1.8" fill="#c8233a" stroke="#921527" stroke-width="0.6"/>
<circle cx="133.1" cy="301.1" r="1.8" fill="#c8233a" stroke="#921527" stroke-width="0.6"/>
<circle cx="140.7" cy="301.1" r="1.8" fill="#c8233a" stroke="#921527" stroke-width="0.6"/>
<circle cx="128.7" cy="304.3" r="1.8" fill="#c8233a" stroke="#921527" stroke-width="0.6"/>
<circle cx="136.7" cy="303.1" r="1.8" fill="#c8233a" stroke="#921527" stroke-width="0.6"/>
<path d="M79.6 285.7V245.2M71.7 285.7H87.5M71.7 245.2H87.5" stroke="#1c3468" stroke-width="1.4" fill="none"/>
<path d="M127.1 305.5V270.7M119.2 305.5H135M119.2 270.7H135" stroke="#b5182b" stroke-width="1.4" fill="none"/>
<path d="M48 197V311.2" stroke="#333333" stroke-width="1.5" fill="none"/>
<path d="M47.3 310.6H159.3" stroke="#1e1e1e" stroke-width="1.3" fill="none"/>
<path d="M45 310.6H48" stroke="#333333" stroke-width="1.1"/>
<text x="42.1" y="313.3" text-anchor="end" class="t">0</text>
<path d="M45 273.6H48" stroke="#333333" stroke-width="1.1"/>
<text x="42.1" y="276.3" text-anchor="end" class="t">20</text>
<path d="M45 236.6H48" stroke="#333333" stroke-width="1.1"/>
<text x="42.1" y="239.3" text-anchor="end" class="t">40</text>
<path d="M45 199.6H48" stroke="#333333" stroke-width="1.1"/>
<text x="42.1" y="202.3" text-anchor="end" class="t">60</text>
<path d="M79.6 310.6V313.2" stroke="#333333" stroke-width="1.1"/>
<text x="79.6" y="324.2" text-anchor="middle" class="t">HC</text>
<path d="M127.1 310.6V313.2" stroke="#333333" stroke-width="1.1"/>
<text x="127.1" y="324.2" text-anchor="middle" class="t">PV</text>
<path d="M79.6 215.8V209H127.1V217.5" stroke="#4a4a4a" stroke-width="1.2" fill="none"/>
<path d="M97.72 206.2L97.72 203.4M96.51 205.5L98.94 204.1M98.94 205.5L96.51 204.1M101.47 206.2L101.47 203.4M100.26 205.5L102.69 204.1M102.69 205.5L100.26 204.1M105.22 206.2L105.22 203.4M104.01 205.5L106.44 204.1M106.44 205.5L104.01 204.1M108.97 206.2L108.97 203.4M107.76 205.5L110.19 204.1M110.19 205.5L107.76 204.1" stroke="#222" stroke-width="0.8" fill="none"/>
<circle cx="97.72" cy="204.8" r="1.05" fill="#1a1a1a"/>
<circle cx="101.47" cy="204.8" r="1.05" fill="#1a1a1a"/>
<circle cx="105.22" cy="204.8" r="1.05" fill="#1a1a1a"/>
<circle cx="108.97" cy="204.8" r="1.05" fill="#1a1a1a"/>
<text transform="translate(26.8 298.1) rotate(-90)" textLength="87.9" lengthAdjust="spacingAndGlyphs" class="yt">Transferrin saturation (%)</text>
<text x="7.7" y="182.7" class="L">D</text>
<rect x="241.25" y="274.1" width="30.1" height="36.5" fill="#7886ae"/>
<rect x="288.95" y="295.3" width="30.1" height="15.3" fill="#de786c"/>
<circle cx="256.6" cy="205.8" r="1.8" fill="#354a7c" stroke="#1e2a52" stroke-width="0.6"/>
<circle cx="264.6" cy="227.6" r="1.8" fill="#354a7c" stroke="#1e2a52" stroke-width="0.6"/>
<circle cx="253.6" cy="230.4" r="1.8" fill="#354a7c" stroke="#1e2a52" stroke-width="0.6"/>
<circle cx="259.1" cy="231.9" r="1.8" fill="#354a7c" stroke="#1e2a52" stroke-width="0.6"/>
<circle cx="256.6" cy="237.1" r="1.8" fill="#354a7c" stroke="#1e2a52" stroke-width="0.6"/>
<circle cx="256.6" cy="243.7" r="1.8" fill="#354a7c" stroke="#1e2a52" stroke-width="0.6"/>
<circle cx="253.7" cy="254.1" r="1.8" fill="#354a7c" stroke="#1e2a52" stroke-width="0.6"/>
<circle cx="258.7" cy="258.2" r="1.8" fill="#354a7c" stroke="#1e2a52" stroke-width="0.6"/>
<circle cx="253.7" cy="261.8" r="1.8" fill="#354a7c" stroke="#1e2a52" stroke-width="0.6"/>
<circle cx="259.1" cy="271.5" r="1.8" fill="#354a7c" stroke="#1e2a52" stroke-width="0.6"/>
<circle cx="269.8" cy="272.7" r="1.8" fill="#354a7c" stroke="#1e2a52" stroke-width="0.6"/>
<circle cx="248.2" cy="275.9" r="1.8" fill="#354a7c" stroke="#1e2a52" stroke-width="0.6"/>
<circle cx="253.7" cy="275.9" r="1.8" fill="#354a7c" stroke="#1e2a52" stroke-width="0.6"/>
<circle cx="259.2" cy="277.2" r="1.8" fill="#354a7c" stroke="#1e2a52" stroke-width="0.6"/>
<circle cx="264.7" cy="275.9" r="1.8" fill="#354a7c" stroke="#1e2a52" stroke-width="0.6"/>
<circle cx="253.7" cy="280.5" r="1.8" fill="#354a7c" stroke="#1e2a52" stroke-width="0.6"/>
<circle cx="259.2" cy="281.8" r="1.8" fill="#354a7c" stroke="#1e2a52" stroke-width="0.6"/>
<circle cx="269.8" cy="285.6" r="1.8" fill="#354a7c" stroke="#1e2a52" stroke-width="0.6"/>
<circle cx="248.2" cy="287.3" r="1.8" fill="#354a7c" stroke="#1e2a52" stroke-width="0.6"/>
<circle cx="242.8" cy="291.1" r="1.8" fill="#354a7c" stroke="#1e2a52" stroke-width="0.6"/>
<circle cx="248.2" cy="292.8" r="1.8" fill="#354a7c" stroke="#1e2a52" stroke-width="0.6"/>
<circle cx="259.2" cy="291.1" r="1.8" fill="#354a7c" stroke="#1e2a52" stroke-width="0.6"/>
<circle cx="264.7" cy="291.5" r="1.8" fill="#354a7c" stroke="#1e2a52" stroke-width="0.6"/>
<circle cx="269.8" cy="290.7" r="1.8" fill="#354a7c" stroke="#1e2a52" stroke-width="0.6"/>
<circle cx="253.7" cy="294.5" r="1.8" fill="#354a7c" stroke="#1e2a52" stroke-width="0.6"/>
<circle cx="259.2" cy="296.2" r="1.8" fill="#354a7c" stroke="#1e2a52" stroke-width="0.6"/>
<circle cx="248.2" cy="298.7" r="1.8" fill="#354a7c" stroke="#1e2a52" stroke-width="0.6"/>
<circle cx="264.7" cy="298.3" r="1.8" fill="#354a7c" stroke="#1e2a52" stroke-width="0.6"/>
<circle cx="259.2" cy="302.5" r="1.8" fill="#354a7c" stroke="#1e2a52" stroke-width="0.6"/>
<circle cx="253.7" cy="305.4" r="1.8" fill="#354a7c" stroke="#1e2a52" stroke-width="0.6"/>
<circle cx="303.6" cy="281.3" r="1.8" fill="#c8233a" stroke="#921527" stroke-width="0.6"/>
<circle cx="303.3" cy="287.2" r="1.8" fill="#c8233a" stroke="#921527" stroke-width="0.6"/>
<circle cx="308.5" cy="287.5" r="1.8" fill="#c8233a" stroke="#921527" stroke-width="0.6"/>
<circle cx="294.2" cy="289.1" r="1.8" fill="#c8233a" stroke="#921527" stroke-width="0.6"/>
<circle cx="297.4" cy="288.8" r="1.8" fill="#c8233a" stroke="#921527" stroke-width="0.6"/>
<circle cx="312.8" cy="290.7" r="1.8" fill="#c8233a" stroke="#921527" stroke-width="0.6"/>
<circle cx="300" cy="292.1" r="1.8" fill="#c8233a" stroke="#921527" stroke-width="0.6"/>
<circle cx="305.6" cy="291.7" r="1.8" fill="#c8233a" stroke="#921527" stroke-width="0.6"/>
<circle cx="309.9" cy="293" r="1.8" fill="#c8233a" stroke="#921527" stroke-width="0.6"/>
<circle cx="289.9" cy="296.3" r="1.8" fill="#c8233a" stroke="#921527" stroke-width="0.6"/>
<circle cx="293.2" cy="295" r="1.8" fill="#c8233a" stroke="#921527" stroke-width="0.6"/>
<circle cx="297.1" cy="294" r="1.8" fill="#c8233a" stroke="#921527" stroke-width="0.6"/>
<circle cx="301.7" cy="295" r="1.8" fill="#c8233a" stroke="#921527" stroke-width="0.6"/>
<circle cx="306.3" cy="294.7" r="1.8" fill="#c8233a" stroke="#921527" stroke-width="0.6"/>
<circle cx="310.8" cy="294.7" r="1.8" fill="#c8233a" stroke="#921527" stroke-width="0.6"/>
<circle cx="314.8" cy="295" r="1.8" fill="#c8233a" stroke="#921527" stroke-width="0.6"/>
<circle cx="317.4" cy="295" r="1.8" fill="#c8233a" stroke="#921527" stroke-width="0.6"/>
<circle cx="289.9" cy="297.6" r="1.8" fill="#c8233a" stroke="#921527" stroke-width="0.6"/>
<circle cx="296.5" cy="298.3" r="1.8" fill="#c8233a" stroke="#921527" stroke-width="0.6"/>
<circle cx="301" cy="297.6" r="1.8" fill="#c8233a" stroke="#921527" stroke-width="0.6"/>
<circle cx="305" cy="298.3" r="1.8" fill="#c8233a" stroke="#921527" stroke-width="0.6"/>
<circle cx="308.9" cy="297.6" r="1.8" fill="#c8233a" stroke="#921527" stroke-width="0.6"/>
<circle cx="313.5" cy="297.6" r="1.8" fill="#c8233a" stroke="#921527" stroke-width="0.6"/>
<circle cx="297.1" cy="300.9" r="1.8" fill="#c8233a" stroke="#921527" stroke-width="0.6"/>
<circle cx="303" cy="300.2" r="1.8" fill="#c8233a" stroke="#921527" stroke-width="0.6"/>
<circle cx="306.9" cy="300.5" r="1.8" fill="#c8233a" stroke="#921527" stroke-width="0.6"/>
<circle cx="299.1" cy="303.8" r="1.8" fill="#c8233a" stroke="#921527" stroke-width="0.6"/>
<circle cx="303.6" cy="303.2" r="1.8" fill="#c8233a" stroke="#921527" stroke-width="0.6"/>
<circle cx="308.2" cy="306.1" r="1.8" fill="#c8233a" stroke="#921527" stroke-width="0.6"/>
<path d="M256.3 299.1V247M248.4 299.1H264.2M248.4 247H264.2" stroke="#1c3468" stroke-width="1.4" fill="none"/>
<path d="M304 299.6V290.7M296.1 299.6H311.9M296.1 290.7H311.9" stroke="#b5182b" stroke-width="1.4" fill="none"/>
<path d="M224.7 197V311.2" stroke="#333333" stroke-width="1.5" fill="none"/>
<path d="M224 310.6H336" stroke="#1e1e1e" stroke-width="1.3" fill="none"/>
<path d="M221.7 310.6H224.7" stroke="#333333" stroke-width="1.1"/>
<text x="218.8" y="313.3" text-anchor="end" class="t">0</text>
<path d="M221.7 288.4H224.7" stroke="#333333" stroke-width="1.1"/>
<text x="218.8" y="291.1" text-anchor="end" class="t">10</text>
<path d="M221.7 266.2H224.7" stroke="#333333" stroke-width="1.1"/>
<text x="218.8" y="268.9" text-anchor="end" class="t">20</text>
<path d="M221.7 244H224.7" stroke="#333333" stroke-width="1.1"/>
<text x="218.8" y="246.7" text-anchor="end" class="t">30</text>
<path d="M221.7 221.8H224.7" stroke="#333333" stroke-width="1.1"/>
<text x="218.8" y="224.5" text-anchor="end" class="t">40</text>
<path d="M221.7 199.6H224.7" stroke="#333333" stroke-width="1.1"/>
<text x="218.8" y="202.3" text-anchor="end" class="t">50</text>
<path d="M256.3 310.6V313.2" stroke="#333333" stroke-width="1.1"/>
<text x="256.3" y="324.2" text-anchor="middle" class="t">HC</text>
<path d="M304 310.6V313.2" stroke="#333333" stroke-width="1.1"/>
<text x="304" y="324.2" text-anchor="middle" class="t">PV</text>
<path d="M256.3 199.6V192.5H304V275.5" stroke="#4a4a4a" stroke-width="1.2" fill="none"/>
<path d="M274.52 189.7L274.52 186.9M273.31 189L275.74 187.6M275.74 189L273.31 187.6M278.27 189.7L278.27 186.9M277.06 189L279.49 187.6M279.49 189L277.06 187.6M282.02 189.7L282.02 186.9M280.81 189L283.24 187.6M283.24 189L280.81 187.6M285.77 189.7L285.77 186.9M284.56 189L286.99 187.6M286.99 189L284.56 187.6" stroke="#222" stroke-width="0.8" fill="none"/>
<circle cx="274.52" cy="188.3" r="1.05" fill="#1a1a1a"/>
<circle cx="278.27" cy="188.3" r="1.05" fill="#1a1a1a"/>
<circle cx="282.02" cy="188.3" r="1.05" fill="#1a1a1a"/>
<circle cx="285.77" cy="188.3" r="1.05" fill="#1a1a1a"/>
<text transform="translate(204 284.8) rotate(-90)" textLength="61.9" lengthAdjust="spacingAndGlyphs" class="yt">Hepcidin (ng/mL)</text>
<text x="175.8" y="182.5" class="L">E</text>
<rect x="418.95" y="309" width="30.1" height="1.6" fill="#7886ae"/>
<rect x="466.15" y="302.6" width="30.1" height="8" fill="#de786c"/>
<circle cx="433.3" cy="256.4" r="1.8" fill="#354a7c" stroke="#1e2a52" stroke-width="0.6"/>
<circle cx="433.6" cy="294.4" r="1.8" fill="#354a7c" stroke="#1e2a52" stroke-width="0.6"/>
<circle cx="433.6" cy="300.2" r="1.8" fill="#354a7c" stroke="#1e2a52" stroke-width="0.6"/>
<circle cx="433.6" cy="303.5" r="1.8" fill="#354a7c" stroke="#1e2a52" stroke-width="0.6"/>
<circle cx="439.5" cy="307.2" r="1.8" fill="#354a7c" stroke="#1e2a52" stroke-width="0.6"/>
<circle cx="420.5" cy="309.8" r="1.8" fill="#354a7c" stroke="#1e2a52" stroke-width="0.6"/>
<circle cx="422.5" cy="309.2" r="1.8" fill="#354a7c" stroke="#1e2a52" stroke-width="0.6"/>
<circle cx="424.5" cy="309.8" r="1.8" fill="#354a7c" stroke="#1e2a52" stroke-width="0.6"/>
<circle cx="426.5" cy="309.2" r="1.8" fill="#354a7c" stroke="#1e2a52" stroke-width="0.6"/>
<circle cx="428.5" cy="309.8" r="1.8" fill="#354a7c" stroke="#1e2a52" stroke-width="0.6"/>
<circle cx="430.5" cy="309.2" r="1.8" fill="#354a7c" stroke="#1e2a52" stroke-width="0.6"/>
<circle cx="432.5" cy="309.8" r="1.8" fill="#354a7c" stroke="#1e2a52" stroke-width="0.6"/>
<circle cx="434.5" cy="309.2" r="1.8" fill="#354a7c" stroke="#1e2a52" stroke-width="0.6"/>
<circle cx="436.5" cy="309.8" r="1.8" fill="#354a7c" stroke="#1e2a52" stroke-width="0.6"/>
<circle cx="438.5" cy="309.2" r="1.8" fill="#354a7c" stroke="#1e2a52" stroke-width="0.6"/>
<circle cx="440.5" cy="309.8" r="1.8" fill="#354a7c" stroke="#1e2a52" stroke-width="0.6"/>
<circle cx="442.5" cy="309.2" r="1.8" fill="#354a7c" stroke="#1e2a52" stroke-width="0.6"/>
<circle cx="444.5" cy="309.8" r="1.8" fill="#354a7c" stroke="#1e2a52" stroke-width="0.6"/>
<circle cx="446.5" cy="309.2" r="1.8" fill="#354a7c" stroke="#1e2a52" stroke-width="0.6"/>
<circle cx="481.4" cy="240.1" r="1.8" fill="#c8233a" stroke="#921527" stroke-width="0.6"/>
<circle cx="481.1" cy="271.4" r="1.8" fill="#c8233a" stroke="#921527" stroke-width="0.6"/>
<circle cx="481.1" cy="274.6" r="1.8" fill="#c8233a" stroke="#921527" stroke-width="0.6"/>
<circle cx="481" cy="288.9" r="1.8" fill="#c8233a" stroke="#921527" stroke-width="0.6"/>
<circle cx="481.2" cy="291.8" r="1.8" fill="#c8233a" stroke="#921527" stroke-width="0.6"/>
<circle cx="481" cy="294.8" r="1.8" fill="#c8233a" stroke="#921527" stroke-width="0.6"/>
<circle cx="481.3" cy="297.7" r="1.8" fill="#c8233a" stroke="#921527" stroke-width="0.6"/>
<circle cx="483.2" cy="299.9" r="1.8" fill="#c8233a" stroke="#921527" stroke-width="0.6"/>
<circle cx="479.5" cy="300.5" r="1.8" fill="#c8233a" stroke="#921527" stroke-width="0.6"/>
<circle cx="478.8" cy="302.8" r="1.8" fill="#c8233a" stroke="#921527" stroke-width="0.6"/>
<circle cx="482.5" cy="303" r="1.8" fill="#c8233a" stroke="#921527" stroke-width="0.6"/>
<circle cx="469.3" cy="306" r="1.8" fill="#c8233a" stroke="#921527" stroke-width="0.6"/>
<circle cx="472" cy="306" r="1.8" fill="#c8233a" stroke="#921527" stroke-width="0.6"/>
<circle cx="475.2" cy="306" r="1.8" fill="#c8233a" stroke="#921527" stroke-width="0.6"/>
<circle cx="478.8" cy="306" r="1.8" fill="#c8233a" stroke="#921527" stroke-width="0.6"/>
<circle cx="483.2" cy="306" r="1.8" fill="#c8233a" stroke="#921527" stroke-width="0.6"/>
<circle cx="486.8" cy="306" r="1.8" fill="#c8233a" stroke="#921527" stroke-width="0.6"/>
<circle cx="491.2" cy="306" r="1.8" fill="#c8233a" stroke="#921527" stroke-width="0.6"/>
<circle cx="494.2" cy="306" r="1.8" fill="#c8233a" stroke="#921527" stroke-width="0.6"/>
<circle cx="467.8" cy="309" r="1.8" fill="#c8233a" stroke="#921527" stroke-width="0.6"/>
<circle cx="473" cy="309" r="1.8" fill="#c8233a" stroke="#921527" stroke-width="0.6"/>
<circle cx="478" cy="309" r="1.8" fill="#c8233a" stroke="#921527" stroke-width="0.6"/>
<circle cx="484" cy="309" r="1.8" fill="#c8233a" stroke="#921527" stroke-width="0.6"/>
<circle cx="489.8" cy="309" r="1.8" fill="#c8233a" stroke="#921527" stroke-width="0.6"/>
<circle cx="494.9" cy="309" r="1.8" fill="#c8233a" stroke="#921527" stroke-width="0.6"/>
<path d="M434 310.5V297.5M426.1 310.5H441.9M426.1 297.5H441.9" stroke="#1c3468" stroke-width="1.4" fill="none"/>
<path d="M481.2 310.5V286.3M473.3 310.5H489.1M473.3 286.3H489.1" stroke="#b5182b" stroke-width="1.4" fill="none"/>
<path d="M402.2 197V311.2" stroke="#333333" stroke-width="1.5" fill="none"/>
<path d="M401.5 310.6H513.5" stroke="#1e1e1e" stroke-width="1.3" fill="none"/>
<path d="M399.2 310.6H402.2" stroke="#333333" stroke-width="1.1"/>
<text x="396.3" y="313.3" text-anchor="end" class="t">0</text>
<path d="M399.2 273.6H402.2" stroke="#333333" stroke-width="1.1"/>
<text x="396.3" y="276.3" text-anchor="end" class="t">50</text>
<path d="M399.2 236.6H402.2" stroke="#333333" stroke-width="1.1"/>
<text x="396.3" y="239.3" text-anchor="end" class="t">100</text>
<path d="M399.2 199.6H402.2" stroke="#333333" stroke-width="1.1"/>
<text x="396.3" y="202.3" text-anchor="end" class="t">150</text>
<path d="M434 310.6V313.2" stroke="#333333" stroke-width="1.1"/>
<text x="434" y="324.2" text-anchor="middle" class="t">HC</text>
<path d="M481.2 310.6V313.2" stroke="#333333" stroke-width="1.1"/>
<text x="481.2" y="324.2" text-anchor="middle" class="t">PV</text>
<path d="M434 250.2V226.7H481.2V233.5" stroke="#4a4a4a" stroke-width="1.2" fill="none"/>
<path d="M453.85 223.9L453.85 221.1M452.64 223.2L455.06 221.8M455.06 223.2L452.64 221.8M457.6 223.9L457.6 221.1M456.39 223.2L458.81 221.8M458.81 223.2L456.39 221.8M461.35 223.9L461.35 221.1M460.14 223.2L462.56 221.8M462.56 223.2L460.14 221.8" stroke="#222" stroke-width="0.8" fill="none"/>
<circle cx="453.85" cy="222.5" r="1.05" fill="#1a1a1a"/>
<circle cx="457.6" cy="222.5" r="1.05" fill="#1a1a1a"/>
<circle cx="461.35" cy="222.5" r="1.05" fill="#1a1a1a"/>
<text transform="translate(376.4 276.6) rotate(-90)" textLength="46" lengthAdjust="spacingAndGlyphs" class="yt">ERFE (ng/ml)</text>
<text x="352.1" y="182.5" class="L">F</text>
<rect x="64.55" y="444.1" width="30.1" height="31.6" fill="#7886ae"/>
<rect x="112.05" y="440.9" width="30.1" height="34.8" fill="#de786c"/>
<circle cx="79.6" cy="387.8" r="1.8" fill="#354a7c" stroke="#1e2a52" stroke-width="0.6"/>
<circle cx="86.1" cy="393.6" r="1.8" fill="#354a7c" stroke="#1e2a52" stroke-width="0.6"/>
<circle cx="79.6" cy="397.9" r="1.8" fill="#354a7c" stroke="#1e2a52" stroke-width="0.6"/>
<circle cx="79.6" cy="424.2" r="1.8" fill="#354a7c" stroke="#1e2a52" stroke-width="0.6"/>
<circle cx="72.6" cy="426.8" r="1.8" fill="#354a7c" stroke="#1e2a52" stroke-width="0.6"/>
<circle cx="66" cy="430" r="1.8" fill="#354a7c" stroke="#1e2a52" stroke-width="0.6"/>
<circle cx="79.6" cy="430.5" r="1.8" fill="#354a7c" stroke="#1e2a52" stroke-width="0.6"/>
<circle cx="86.1" cy="431.8" r="1.8" fill="#354a7c" stroke="#1e2a52" stroke-width="0.6"/>
<circle cx="93.1" cy="429.8" r="1.8" fill="#354a7c" stroke="#1e2a52" stroke-width="0.6"/>
<circle cx="79.6" cy="435.2" r="1.8" fill="#354a7c" stroke="#1e2a52" stroke-width="0.6"/>
<circle cx="66" cy="442.6" r="1.8" fill="#354a7c" stroke="#1e2a52" stroke-width="0.6"/>
<circle cx="72.6" cy="442.1" r="1.8" fill="#354a7c" stroke="#1e2a52" stroke-width="0.6"/>
<circle cx="79.6" cy="442.6" r="1.8" fill="#354a7c" stroke="#1e2a52" stroke-width="0.6"/>
<circle cx="86.1" cy="440.9" r="1.8" fill="#354a7c" stroke="#1e2a52" stroke-width="0.6"/>
<circle cx="72.6" cy="447.6" r="1.8" fill="#354a7c" stroke="#1e2a52" stroke-width="0.6"/>
<circle cx="86.1" cy="446.1" r="1.8" fill="#354a7c" stroke="#1e2a52" stroke-width="0.6"/>
<circle cx="66" cy="451.6" r="1.8" fill="#354a7c" stroke="#1e2a52" stroke-width="0.6"/>
<circle cx="93.1" cy="451.6" r="1.8" fill="#354a7c" stroke="#1e2a52" stroke-width="0.6"/>
<circle cx="66" cy="456.1" r="1.8" fill="#354a7c" stroke="#1e2a52" stroke-width="0.6"/>
<circle cx="72.6" cy="454.9" r="1.8" fill="#354a7c" stroke="#1e2a52" stroke-width="0.6"/>
<circle cx="79.6" cy="454.1" r="1.8" fill="#354a7c" stroke="#1e2a52" stroke-width="0.6"/>
<circle cx="86.1" cy="454.1" r="1.8" fill="#354a7c" stroke="#1e2a52" stroke-width="0.6"/>
<circle cx="72.6" cy="460.1" r="1.8" fill="#354a7c" stroke="#1e2a52" stroke-width="0.6"/>
<circle cx="79.6" cy="459.6" r="1.8" fill="#354a7c" stroke="#1e2a52" stroke-width="0.6"/>
<circle cx="86.1" cy="459.1" r="1.8" fill="#354a7c" stroke="#1e2a52" stroke-width="0.6"/>
<circle cx="93.1" cy="464.2" r="1.8" fill="#354a7c" stroke="#1e2a52" stroke-width="0.6"/>
<circle cx="72.6" cy="465.7" r="1.8" fill="#354a7c" stroke="#1e2a52" stroke-width="0.6"/>
<circle cx="79.6" cy="466.2" r="1.8" fill="#354a7c" stroke="#1e2a52" stroke-width="0.6"/>
<circle cx="86.1" cy="466.2" r="1.8" fill="#354a7c" stroke="#1e2a52" stroke-width="0.6"/>
<circle cx="72.6" cy="470.7" r="1.8" fill="#354a7c" stroke="#1e2a52" stroke-width="0.6"/>
<circle cx="127.1" cy="380" r="1.8" fill="#c8233a" stroke="#921527" stroke-width="0.6"/>
<circle cx="127.1" cy="388.3" r="1.8" fill="#c8233a" stroke="#921527" stroke-width="0.6"/>
<circle cx="127.1" cy="405.1" r="1.8" fill="#c8233a" stroke="#921527" stroke-width="0.6"/>
<circle cx="127.1" cy="416.4" r="1.8" fill="#c8233a" stroke="#921527" stroke-width="0.6"/>
<circle cx="121.5" cy="421.6" r="1.8" fill="#c8233a" stroke="#921527" stroke-width="0.6"/>
<circle cx="126.9" cy="422.2" r="1.8" fill="#c8233a" stroke="#921527" stroke-width="0.6"/>
<circle cx="132.3" cy="423.4" r="1.8" fill="#c8233a" stroke="#921527" stroke-width="0.6"/>
<circle cx="118.4" cy="430.7" r="1.8" fill="#c8233a" stroke="#921527" stroke-width="0.6"/>
<circle cx="135.3" cy="430.1" r="1.8" fill="#c8233a" stroke="#921527" stroke-width="0.6"/>
<circle cx="123.9" cy="433.7" r="1.8" fill="#c8233a" stroke="#921527" stroke-width="0.6"/>
<circle cx="118.4" cy="436.7" r="1.8" fill="#c8233a" stroke="#921527" stroke-width="0.6"/>
<circle cx="129.3" cy="436.1" r="1.8" fill="#c8233a" stroke="#921527" stroke-width="0.6"/>
<circle cx="123.9" cy="438.5" r="1.8" fill="#c8233a" stroke="#921527" stroke-width="0.6"/>
<circle cx="129.3" cy="440.3" r="1.8" fill="#c8233a" stroke="#921527" stroke-width="0.6"/>
<circle cx="123.9" cy="443.9" r="1.8" fill="#c8233a" stroke="#921527" stroke-width="0.6"/>
<circle cx="129.9" cy="444.5" r="1.8" fill="#c8233a" stroke="#921527" stroke-width="0.6"/>
<circle cx="129.3" cy="450.5" r="1.8" fill="#c8233a" stroke="#921527" stroke-width="0.6"/>
<circle cx="119" cy="454.8" r="1.8" fill="#c8233a" stroke="#921527" stroke-width="0.6"/>
<circle cx="129.3" cy="456" r="1.8" fill="#c8233a" stroke="#921527" stroke-width="0.6"/>
<circle cx="123.9" cy="457.2" r="1.8" fill="#c8233a" stroke="#921527" stroke-width="0.6"/>
<circle cx="135.3" cy="456" r="1.8" fill="#c8233a" stroke="#921527" stroke-width="0.6"/>
<circle cx="113.6" cy="461.4" r="1.8" fill="#c8233a" stroke="#921527" stroke-width="0.6"/>
<circle cx="119" cy="460.8" r="1.8" fill="#c8233a" stroke="#921527" stroke-width="0.6"/>
<circle cx="140.7" cy="461.4" r="1.8" fill="#c8233a" stroke="#921527" stroke-width="0.6"/>
<circle cx="123.9" cy="463.2" r="1.8" fill="#c8233a" stroke="#921527" stroke-width="0.6"/>
<circle cx="129.3" cy="464.4" r="1.8" fill="#c8233a" stroke="#921527" stroke-width="0.6"/>
<circle cx="135.3" cy="462.6" r="1.8" fill="#c8233a" stroke="#921527" stroke-width="0.6"/>
<circle cx="123.9" cy="469.2" r="1.8" fill="#c8233a" stroke="#921527" stroke-width="0.6"/>
<path d="M79.6 464.4V421.2M71.7 464.4H87.5M71.7 421.2H87.5" stroke="#1c3468" stroke-width="1.4" fill="none"/>
<path d="M127.1 462V416.4M119.2 462H135M119.2 416.4H135" stroke="#b5182b" stroke-width="1.4" fill="none"/>
<path d="M48 362V476.3" stroke="#333333" stroke-width="1.5" fill="none"/>
<path d="M47.3 475.7H159.3" stroke="#1e1e1e" stroke-width="1.3" fill="none"/>
<path d="M45 475.7H48" stroke="#333333" stroke-width="1.1"/>
<text x="42.1" y="478.4" text-anchor="end" class="t">0.0</text>
<path d="M45 438.67H48" stroke="#333333" stroke-width="1.1"/>
<text x="42.1" y="441.37" text-anchor="end" class="t">0.5</text>
<path d="M45 401.63H48" stroke="#333333" stroke-width="1.1"/>
<text x="42.1" y="404.33" text-anchor="end" class="t">1.0</text>
<path d="M45 364.6H48" stroke="#333333" stroke-width="1.1"/>
<text x="42.1" y="367.3" text-anchor="end" class="t">1.5</text>
<path d="M79.6 475.7V478.3" stroke="#333333" stroke-width="1.1"/>
<text x="79.6" y="489.3" text-anchor="middle" class="t">HC</text>
<path d="M127.1 475.7V478.3" stroke="#333333" stroke-width="1.1"/>
<text x="127.1" y="489.3" text-anchor="middle" class="t">PV</text>
<path d="M79.6 381.7V367.5H127.1V374.2" stroke="#4a4a4a" stroke-width="1.2" fill="none"/>
<text x="103.35" y="361.5" text-anchor="middle" class="ns">ns</text>
<text transform="translate(24.3 448.1) rotate(-90)" textLength="58.7" lengthAdjust="spacingAndGlyphs" class="yt">Hepcidin:ferritin</text>
<text x="7.1" y="351.9" class="L">G</text>
<rect x="241.25" y="461.5" width="30.1" height="14.2" fill="#7886ae"/>
<rect x="288.95" y="450" width="30.1" height="25.7" fill="#de786c"/>
<circle cx="257.3" cy="448" r="1.8" fill="#354a7c" stroke="#1e2a52" stroke-width="0.6"/>
<circle cx="264.9" cy="448.4" r="1.8" fill="#354a7c" stroke="#1e2a52" stroke-width="0.6"/>
<circle cx="246" cy="450" r="1.8" fill="#354a7c" stroke="#1e2a52" stroke-width="0.6"/>
<circle cx="249.7" cy="450.4" r="1.8" fill="#354a7c" stroke="#1e2a52" stroke-width="0.6"/>
<circle cx="243.2" cy="452.4" r="1.8" fill="#354a7c" stroke="#1e2a52" stroke-width="0.6"/>
<circle cx="260.1" cy="450.8" r="1.8" fill="#354a7c" stroke="#1e2a52" stroke-width="0.6"/>
<circle cx="269.7" cy="450" r="1.8" fill="#354a7c" stroke="#1e2a52" stroke-width="0.6"/>
<circle cx="252.9" cy="453.3" r="1.8" fill="#354a7c" stroke="#1e2a52" stroke-width="0.6"/>
<circle cx="257.3" cy="453.3" r="1.8" fill="#354a7c" stroke="#1e2a52" stroke-width="0.6"/>
<circle cx="262.5" cy="453.3" r="1.8" fill="#354a7c" stroke="#1e2a52" stroke-width="0.6"/>
<circle cx="267.3" cy="454.1" r="1.8" fill="#354a7c" stroke="#1e2a52" stroke-width="0.6"/>
<circle cx="243.2" cy="456.1" r="1.8" fill="#354a7c" stroke="#1e2a52" stroke-width="0.6"/>
<circle cx="254.5" cy="456.5" r="1.8" fill="#354a7c" stroke="#1e2a52" stroke-width="0.6"/>
<circle cx="260.1" cy="456.1" r="1.8" fill="#354a7c" stroke="#1e2a52" stroke-width="0.6"/>
<circle cx="264.9" cy="456.9" r="1.8" fill="#354a7c" stroke="#1e2a52" stroke-width="0.6"/>
<circle cx="244" cy="459.3" r="1.8" fill="#354a7c" stroke="#1e2a52" stroke-width="0.6"/>
<circle cx="249.7" cy="459.3" r="1.8" fill="#354a7c" stroke="#1e2a52" stroke-width="0.6"/>
<circle cx="256.1" cy="458.5" r="1.8" fill="#354a7c" stroke="#1e2a52" stroke-width="0.6"/>
<circle cx="262.5" cy="459.3" r="1.8" fill="#354a7c" stroke="#1e2a52" stroke-width="0.6"/>
<circle cx="270.1" cy="460.5" r="1.8" fill="#354a7c" stroke="#1e2a52" stroke-width="0.6"/>
<circle cx="254.9" cy="462.9" r="1.8" fill="#354a7c" stroke="#1e2a52" stroke-width="0.6"/>
<circle cx="260.1" cy="464.1" r="1.8" fill="#354a7c" stroke="#1e2a52" stroke-width="0.6"/>
<circle cx="256.5" cy="470.9" r="1.8" fill="#354a7c" stroke="#1e2a52" stroke-width="0.6"/>
<circle cx="304.1" cy="395.3" r="1.8" fill="#c8233a" stroke="#921527" stroke-width="0.6"/>
<circle cx="302.1" cy="429.3" r="1.8" fill="#c8233a" stroke="#921527" stroke-width="0.6"/>
<circle cx="305.8" cy="428.7" r="1.8" fill="#c8233a" stroke="#921527" stroke-width="0.6"/>
<circle cx="303.7" cy="441.5" r="1.8" fill="#c8233a" stroke="#921527" stroke-width="0.6"/>
<circle cx="289.9" cy="444.1" r="1.8" fill="#c8233a" stroke="#921527" stroke-width="0.6"/>
<circle cx="294.1" cy="442.6" r="1.8" fill="#c8233a" stroke="#921527" stroke-width="0.6"/>
<circle cx="307.9" cy="444.7" r="1.8" fill="#c8233a" stroke="#921527" stroke-width="0.6"/>
<circle cx="311.7" cy="444.1" r="1.8" fill="#c8233a" stroke="#921527" stroke-width="0.6"/>
<circle cx="317.5" cy="444.1" r="1.8" fill="#c8233a" stroke="#921527" stroke-width="0.6"/>
<circle cx="293.6" cy="447.9" r="1.8" fill="#c8233a" stroke="#921527" stroke-width="0.6"/>
<circle cx="298.4" cy="447.3" r="1.8" fill="#c8233a" stroke="#921527" stroke-width="0.6"/>
<circle cx="303.7" cy="447.3" r="1.8" fill="#c8233a" stroke="#921527" stroke-width="0.6"/>
<circle cx="313.8" cy="447.3" r="1.8" fill="#c8233a" stroke="#921527" stroke-width="0.6"/>
<circle cx="310.1" cy="449.5" r="1.8" fill="#c8233a" stroke="#921527" stroke-width="0.6"/>
<circle cx="290.4" cy="453.7" r="1.8" fill="#c8233a" stroke="#921527" stroke-width="0.6"/>
<circle cx="294.1" cy="453.2" r="1.8" fill="#c8233a" stroke="#921527" stroke-width="0.6"/>
<circle cx="303.7" cy="453.2" r="1.8" fill="#c8233a" stroke="#921527" stroke-width="0.6"/>
<circle cx="307.4" cy="452.1" r="1.8" fill="#c8233a" stroke="#921527" stroke-width="0.6"/>
<circle cx="314.3" cy="452.1" r="1.8" fill="#c8233a" stroke="#921527" stroke-width="0.6"/>
<circle cx="297.8" cy="456.4" r="1.8" fill="#c8233a" stroke="#921527" stroke-width="0.6"/>
<circle cx="303.7" cy="455.9" r="1.8" fill="#c8233a" stroke="#921527" stroke-width="0.6"/>
<circle cx="310.6" cy="456.9" r="1.8" fill="#c8233a" stroke="#921527" stroke-width="0.6"/>
<circle cx="293.6" cy="459" r="1.8" fill="#c8233a" stroke="#921527" stroke-width="0.6"/>
<circle cx="300.5" cy="459" r="1.8" fill="#c8233a" stroke="#921527" stroke-width="0.6"/>
<circle cx="306.9" cy="458.5" r="1.8" fill="#c8233a" stroke="#921527" stroke-width="0.6"/>
<circle cx="317.5" cy="458.5" r="1.8" fill="#c8233a" stroke="#921527" stroke-width="0.6"/>
<circle cx="300.5" cy="462.8" r="1.8" fill="#c8233a" stroke="#921527" stroke-width="0.6"/>
<circle cx="306.9" cy="462.8" r="1.8" fill="#c8233a" stroke="#921527" stroke-width="0.6"/>
<path d="M256.3 463.5V452.7M248.4 463.5H264.2M248.4 452.7H264.2" stroke="#1c3468" stroke-width="1.4" fill="none"/>
<path d="M304 461.7V435.6M296.1 461.7H311.9M296.1 435.6H311.9" stroke="#b5182b" stroke-width="1.4" fill="none"/>
<path d="M224.7 362V476.3" stroke="#333333" stroke-width="1.5" fill="none"/>
<path d="M224 475.7H336" stroke="#1e1e1e" stroke-width="1.3" fill="none"/>
<path d="M221.7 475.7H224.7" stroke="#333333" stroke-width="1.1"/>
<text x="218.8" y="478.4" text-anchor="end" class="t">0</text>
<path d="M221.7 438.67H224.7" stroke="#333333" stroke-width="1.1"/>
<text x="218.8" y="441.37" text-anchor="end" class="t">500</text>
<path d="M221.7 401.63H224.7" stroke="#333333" stroke-width="1.1"/>
<text x="218.8" y="404.33" text-anchor="end" class="t">1000</text>
<path d="M221.7 364.6H224.7" stroke="#333333" stroke-width="1.1"/>
<text x="218.8" y="367.3" text-anchor="end" class="t">1500</text>
<path d="M256.3 475.7V478.3" stroke="#333333" stroke-width="1.1"/>
<text x="256.3" y="489.3" text-anchor="middle" class="t">HC</text>
<path d="M304 475.7V478.3" stroke="#333333" stroke-width="1.1"/>
<text x="304" y="489.3" text-anchor="middle" class="t">PV</text>
<path d="M256.3 442.4V382H304V389" stroke="#4a4a4a" stroke-width="1.2" fill="none"/>
<path d="M278.27 379.2L278.27 376.4M277.06 378.5L279.49 377.1M279.49 378.5L277.06 377.1M282.02 379.2L282.02 376.4M280.81 378.5L283.24 377.1M283.24 378.5L280.81 377.1" stroke="#222" stroke-width="0.8" fill="none"/>
<circle cx="278.27" cy="377.8" r="1.05" fill="#1a1a1a"/>
<circle cx="282.02" cy="377.8" r="1.05" fill="#1a1a1a"/>
<text transform="translate(194.3 446.8) rotate(-90)" textLength="56.2" lengthAdjust="spacingAndGlyphs" class="yt">Platelets (10<tspan dy="-3.4" font-size="5.8">9</tspan><tspan dy="3.4">/L)</tspan></text>
<text x="175.2" y="351.9" class="L">H</text>
<rect x="418.95" y="471.3" width="30.1" height="4.4" fill="#7886ae"/>
<rect x="466.15" y="466.4" width="30.1" height="9.3" fill="#de786c"/>
<circle cx="432.5" cy="468.2" r="1.8" fill="#354a7c" stroke="#1e2a52" stroke-width="0.6"/>
<circle cx="437" cy="468.2" r="1.8" fill="#354a7c" stroke="#1e2a52" stroke-width="0.6"/>
<circle cx="443.5" cy="468.9" r="1.8" fill="#354a7c" stroke="#1e2a52" stroke-width="0.6"/>
<circle cx="420.1" cy="469.7" r="1.8" fill="#354a7c" stroke="#1e2a52" stroke-width="0.6"/>
<circle cx="423.8" cy="469.7" r="1.8" fill="#354a7c" stroke="#1e2a52" stroke-width="0.6"/>
<circle cx="427.4" cy="469.7" r="1.8" fill="#354a7c" stroke="#1e2a52" stroke-width="0.6"/>
<circle cx="431.8" cy="469.7" r="1.8" fill="#354a7c" stroke="#1e2a52" stroke-width="0.6"/>
<circle cx="435.5" cy="469.7" r="1.8" fill="#354a7c" stroke="#1e2a52" stroke-width="0.6"/>
<circle cx="439.1" cy="469.7" r="1.8" fill="#354a7c" stroke="#1e2a52" stroke-width="0.6"/>
<circle cx="442.8" cy="469.7" r="1.8" fill="#354a7c" stroke="#1e2a52" stroke-width="0.6"/>
<circle cx="446.4" cy="469.7" r="1.8" fill="#354a7c" stroke="#1e2a52" stroke-width="0.6"/>
<circle cx="419.4" cy="472.3" r="1.8" fill="#354a7c" stroke="#1e2a52" stroke-width="0.6"/>
<circle cx="423" cy="472.3" r="1.8" fill="#354a7c" stroke="#1e2a52" stroke-width="0.6"/>
<circle cx="426.7" cy="472.3" r="1.8" fill="#354a7c" stroke="#1e2a52" stroke-width="0.6"/>
<circle cx="430.4" cy="472.3" r="1.8" fill="#354a7c" stroke="#1e2a52" stroke-width="0.6"/>
<circle cx="434" cy="472.3" r="1.8" fill="#354a7c" stroke="#1e2a52" stroke-width="0.6"/>
<circle cx="437.7" cy="472.3" r="1.8" fill="#354a7c" stroke="#1e2a52" stroke-width="0.6"/>
<circle cx="441.3" cy="472.3" r="1.8" fill="#354a7c" stroke="#1e2a52" stroke-width="0.6"/>
<circle cx="445" cy="472.3" r="1.8" fill="#354a7c" stroke="#1e2a52" stroke-width="0.6"/>
<circle cx="447.9" cy="472.3" r="1.8" fill="#354a7c" stroke="#1e2a52" stroke-width="0.6"/>
<circle cx="481.1" cy="393.1" r="1.8" fill="#c8233a" stroke="#921527" stroke-width="0.6"/>
<circle cx="481" cy="453.8" r="1.8" fill="#c8233a" stroke="#921527" stroke-width="0.6"/>
<circle cx="481" cy="456.2" r="1.8" fill="#c8233a" stroke="#921527" stroke-width="0.6"/>
<circle cx="479.2" cy="459.7" r="1.8" fill="#c8233a" stroke="#921527" stroke-width="0.6"/>
<circle cx="475.9" cy="463.4" r="1.8" fill="#c8233a" stroke="#921527" stroke-width="0.6"/>
<circle cx="483.2" cy="463.4" r="1.8" fill="#c8233a" stroke="#921527" stroke-width="0.6"/>
<circle cx="486.5" cy="465.2" r="1.8" fill="#c8233a" stroke="#921527" stroke-width="0.6"/>
<circle cx="467.8" cy="467.8" r="1.8" fill="#c8233a" stroke="#921527" stroke-width="0.6"/>
<circle cx="471.5" cy="467.8" r="1.8" fill="#c8233a" stroke="#921527" stroke-width="0.6"/>
<circle cx="474.4" cy="467.8" r="1.8" fill="#c8233a" stroke="#921527" stroke-width="0.6"/>
<circle cx="477.7" cy="467.8" r="1.8" fill="#c8233a" stroke="#921527" stroke-width="0.6"/>
<circle cx="481.4" cy="467.8" r="1.8" fill="#c8233a" stroke="#921527" stroke-width="0.6"/>
<circle cx="484.7" cy="467.8" r="1.8" fill="#c8233a" stroke="#921527" stroke-width="0.6"/>
<circle cx="488.3" cy="467.8" r="1.8" fill="#c8233a" stroke="#921527" stroke-width="0.6"/>
<circle cx="492" cy="467.8" r="1.8" fill="#c8233a" stroke="#921527" stroke-width="0.6"/>
<circle cx="494.9" cy="467.8" r="1.8" fill="#c8233a" stroke="#921527" stroke-width="0.6"/>
<circle cx="467.1" cy="471.4" r="1.8" fill="#c8233a" stroke="#921527" stroke-width="0.6"/>
<circle cx="470.8" cy="471.4" r="1.8" fill="#c8233a" stroke="#921527" stroke-width="0.6"/>
<circle cx="474.4" cy="471.4" r="1.8" fill="#c8233a" stroke="#921527" stroke-width="0.6"/>
<circle cx="478.1" cy="471.4" r="1.8" fill="#c8233a" stroke="#921527" stroke-width="0.6"/>
<circle cx="481.7" cy="471.4" r="1.8" fill="#c8233a" stroke="#921527" stroke-width="0.6"/>
<circle cx="485.4" cy="471.4" r="1.8" fill="#c8233a" stroke="#921527" stroke-width="0.6"/>
<circle cx="489" cy="471.4" r="1.8" fill="#c8233a" stroke="#921527" stroke-width="0.6"/>
<circle cx="492.7" cy="471.4" r="1.8" fill="#c8233a" stroke="#921527" stroke-width="0.6"/>
<circle cx="495.6" cy="471.4" r="1.8" fill="#c8233a" stroke="#921527" stroke-width="0.6"/>
<path d="M434 473V469.5M426.1 473H441.9M426.1 469.5H441.9" stroke="#1c3468" stroke-width="1.4" fill="none"/>
<path d="M481.2 475.7V451M473.3 475.7H489.1M473.3 451H489.1" stroke="#b5182b" stroke-width="1.4" fill="none"/>
<path d="M402.2 362V476.3" stroke="#333333" stroke-width="1.5" fill="none"/>
<path d="M401.5 475.7H513.5" stroke="#1e1e1e" stroke-width="1.3" fill="none"/>
<path d="M399.2 475.7H402.2" stroke="#333333" stroke-width="1.1"/>
<text x="396.3" y="478.4" text-anchor="end" class="t">0</text>
<path d="M399.2 438.67H402.2" stroke="#333333" stroke-width="1.1"/>
<text x="396.3" y="441.37" text-anchor="end" class="t">50</text>
<path d="M399.2 401.63H402.2" stroke="#333333" stroke-width="1.1"/>
<text x="396.3" y="404.33" text-anchor="end" class="t">100</text>
<path d="M399.2 364.6H402.2" stroke="#333333" stroke-width="1.1"/>
<text x="396.3" y="367.3" text-anchor="end" class="t">150</text>
<path d="M434 475.7V478.3" stroke="#333333" stroke-width="1.1"/>
<text x="434" y="489.3" text-anchor="middle" class="t">HC</text>
<path d="M481.2 475.7V478.3" stroke="#333333" stroke-width="1.1"/>
<text x="481.2" y="489.3" text-anchor="middle" class="t">PV</text>
<path d="M434 463.5V380H481.2V386.3" stroke="#4a4a4a" stroke-width="1.2" fill="none"/>
<path d="M453.85 377.2L453.85 374.4M452.64 376.5L455.06 375.1M455.06 376.5L452.64 375.1M457.6 377.2L457.6 374.4M456.39 376.5L458.81 375.1M458.81 376.5L456.39 375.1M461.35 377.2L461.35 374.4M460.14 376.5L462.56 375.1M462.56 376.5L460.14 375.1" stroke="#222" stroke-width="0.8" fill="none"/>
<circle cx="453.85" cy="375.8" r="1.05" fill="#1a1a1a"/>
<circle cx="457.6" cy="375.8" r="1.05" fill="#1a1a1a"/>
<circle cx="461.35" cy="375.8" r="1.05" fill="#1a1a1a"/>
<text transform="translate(371.9 450.8) rotate(-90)" textLength="64.1" lengthAdjust="spacingAndGlyphs" class="yt">Leukocytes (10<tspan dy="-3.4" font-size="5.8">9</tspan><tspan dy="3.4">/L)</tspan></text>
<text x="352.3" y="351.9" class="L">I</text>
</svg><div id="bd"></div></body></html>
